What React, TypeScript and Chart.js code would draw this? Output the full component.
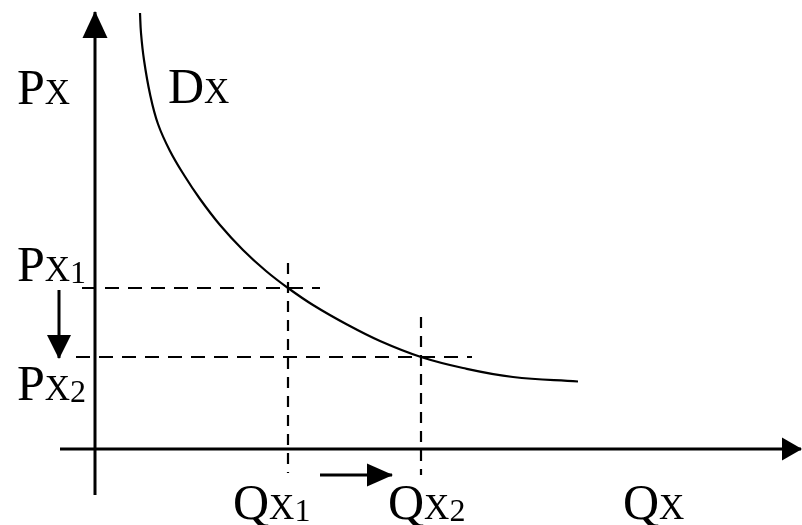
import { useEffect, useRef } from 'react';
import Chart from 'chart.js/auto';

// demand curve Dx (quantity to the right, price up)
const curveQ = [4.5, 4.6, 4.9, 5.5, 6.3, 7.5, 8.9, 10.5, 12.5, 14.8, 17.1, 19.3, 21.8, 25.2, 28.5, 32.6, 36.8, 41.8, 48.3];
const curveP = [43.6, 41.6, 38.9, 35.5, 32.5, 29.8, 27.4, 25.0, 22.4, 19.9, 17.8, 16.1, 14.4, 12.45, 10.8, 9.2, 8.1, 7.2, 6.75];

// Px1, Px2 and Qx1, Qx2
const priceLevels = [16.1, 9.2];
const quantityLevels = [19.3, 32.6];

// where the dashed guides start and stop
const priceGuideFrom = [-1.3, -1.9];
const priceGuideTo = [22.5, 37.7];
const quantityGuideFrom = [18.6, 13.2];
const quantityGuideTo = [-2.4, -2.6];

// axis extents
const axisQ = [-3.5, 70.6];
const axisP = [-4.6, 43.7];

// the two little movement arrows (price falls, quantity rises)
const priceArrowX = -3.6;
const priceArrowY = [15.9, 9.1];
const quantityArrowY = -2.6;
const quantityArrowX = [22.5, 29.7];

// text: first letter big, second small, the rest as a subscript
const labelText = ['PX', 'DX', 'PX1', 'PX2', 'QX1', 'QX2', 'QX'];
const labelAt = [
  [-7.8, 34.5],
  [7.3, 34.6],
  [-7.8, 16.8],
  [-7.8, 4.9],
  [13.8, -7.0],
  [29.3, -7.0],
  [52.8, -7.0],
];

const SERIF = '"Liberation Serif", "Times New Roman", serif';

const arrowHeads = {
  id: 'arrowHeads',
  afterDatasetsDraw(chart: any) {
    const { ctx } = chart;
    chart.data.datasets.forEach((ds: any, i: number) => {
      if (!ds.arrowLen) return;
      const pts = chart.getDatasetMeta(i).data;
      const a = pts[pts.length - 2];
      const b = pts[pts.length - 1];
      const ang = Math.atan2(b.y - a.y, b.x - a.x);
      ctx.save();
      ctx.translate(b.x, b.y);
      ctx.rotate(ang);
      ctx.fillStyle = '#000';
      ctx.beginPath();
      ctx.moveTo(1, 0);
      ctx.lineTo(-ds.arrowLen, -ds.arrowHalf);
      ctx.lineTo(-ds.arrowLen, ds.arrowHalf);
      ctx.closePath();
      ctx.fill();
      ctx.restore();
    });
  },
};

const diagramText = {
  id: 'diagramText',
  afterDatasetsDraw(chart: any) {
    const { ctx, scales } = chart;
    ctx.save();
    ctx.fillStyle = '#000';
    ctx.textBaseline = 'alphabetic';
    labelText.forEach((t, i) => {
      let px = scales.x.getPixelForValue(labelAt[i][0]);
      const py = scales.y.getPixelForValue(labelAt[i][1]);
      ctx.font = `50px ${SERIF}`;
      ctx.fillText(t[0], px, py);
      px += ctx.measureText(t[0]).width;
      ctx.font = `35px ${SERIF}`;
      ctx.fillText(t[1], px, py);
      px += ctx.measureText(t[1]).width;
      if (t.length > 2) {
        ctx.font = `32px ${SERIF}`;
        ctx.fillText(t.slice(2), px, py + 2);
      }
    });
    ctx.restore();
  },
};

const line = (data: { x: number; y: number }[], extra: any = {}) => ({
  data,
  showLine: true,
  borderColor: '#000',
  borderWidth: 2.2,
  pointRadius: 0,
  fill: false,
  clip: false,
  ...extra,
});

const DemandShift = () => {
  const chartRef = useRef<HTMLCanvasElement>(null);

  useEffect(() => {
    if (!chartRef.current) return;

    const datasets: any[] = [
      line([{ x: axisQ[0], y: 0 }, { x: axisQ[1], y: 0 }], { borderWidth: 3, arrowLen: 19, arrowHalf: 11.5 }),
      line([{ x: 0, y: axisP[0] }, { x: 0, y: axisP[1] }], { borderWidth: 3, arrowLen: 26, arrowHalf: 12.5 }),
      line(curveQ.map((q, i) => ({ x: q, y: curveP[i] })), { tension: 0.4 }),
    ];

    priceLevels.forEach((p, i) => {
      datasets.push(line([{ x: priceGuideFrom[i], y: p }, { x: priceGuideTo[i], y: p }], { borderDash: [14, 9] }));
    });
    quantityLevels.forEach((q, i) => {
      datasets.push(line([{ x: q, y: quantityGuideFrom[i] }, { x: q, y: quantityGuideTo[i] }], { borderDash: [11, 8] }));
    });

    datasets.push(line([{ x: priceArrowX, y: priceArrowY[0] }, { x: priceArrowX, y: priceArrowY[1] }], { borderWidth: 3, arrowLen: 23, arrowHalf: 12 }));
    datasets.push(line([{ x: quantityArrowX[0], y: quantityArrowY }, { x: quantityArrowX[1], y: quantityArrowY }], { borderWidth: 3, arrowLen: 25, arrowHalf: 11.5 }));

    const chartInstance = new Chart(chartRef.current, {
      type: 'scatter',
      data: { datasets },
      options: {
        animation: false,
        responsive: false,
        events: [],
        layout: { padding: 0 },
        plugins: {
          legend: { display: false },
          tooltip: { enabled: false },
        },
        scales: {
          x: { type: 'linear', min: -9.5, max: 70.7, display: false },
          y: { type: 'linear', min: -7.6, max: 44.9, display: false },
        },
      },
      plugins: [arrowHeads, diagramText],
    });

    return () => {
      chartInstance.destroy();
    };
  }, []);

  return (
    <div style={{ position: 'absolute', left: 0, top: 0, width: 802, height: 525, background: '#fff' }}>
      <canvas ref={chartRef} width={802} height={525} style={{ width: 802, height: 525 }}></canvas>
    </div>
  );
};

export default function App() {
  return <DemandShift />;
}
